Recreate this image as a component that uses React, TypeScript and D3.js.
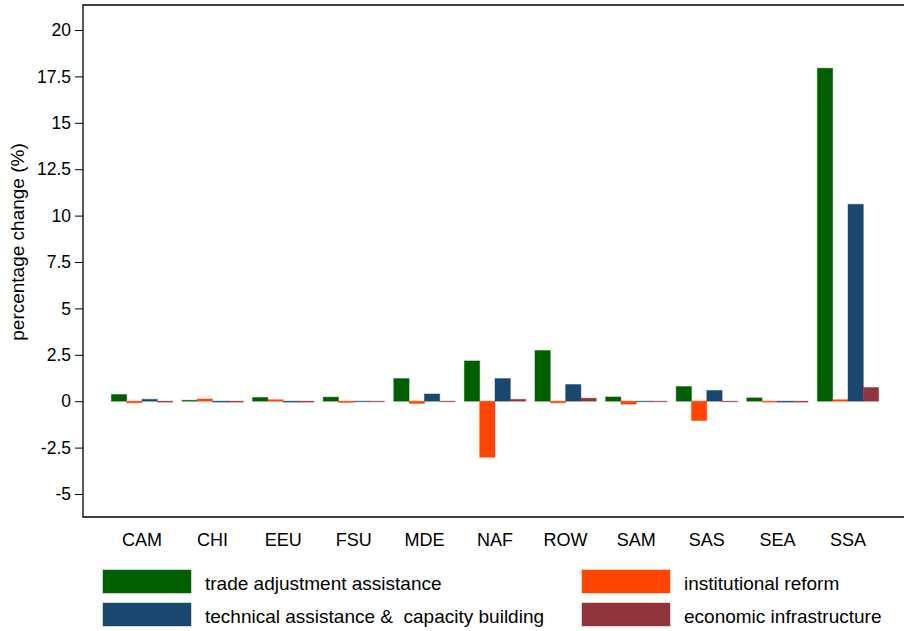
import { useEffect, useRef } from "react";
import * as d3 from "d3";

const regions = ["CAM", "CHI", "EEU", "FSU", "MDE", "NAF", "ROW", "SAM", "SAS", "SEA", "SSA"];
const seriesNames = [
  "trade adjustment assistance",
  "institutional reform",
  "technical assistance &  capacity building",
  "economic infrastructure",
];
const tradeAdj = [0.36, 0.05, 0.2, 0.22, 1.22, 2.17, 2.73, 0.23, 0.79, 0.18, 17.94];
const instReform = [-0.09, 0.12, 0.08, -0.07, -0.12, -3.02, -0.09, -0.16, -1.04, -0.05, 0.08];
const techAssist = [0.1, -0.05, -0.05, -0.03, 0.39, 1.22, 0.9, -0.03, 0.58, -0.05, 10.61];
const econInfra = [-0.05, -0.05, -0.05, -0.03, -0.03, 0.1, 0.16, -0.03, -0.03, -0.05, 0.74];
const yTicks = [-5, -2.5, 0, 2.5, 5, 7.5, 10, 12.5, 15, 17.5, 20];
const colors = ["#006000", "#ff4500", "#1a476f", "#90353b"];

export default function App() {
  const ref = useRef<SVGSVGElement>(null);

  useEffect(() => {
    document.body.style.margin = "0";
    if (!ref.current) return;
    const width = 904;
    const height = 631;
    const font = "'Liberation Sans', Arial, Helvetica, sans-serif";
    const left = 83;
    const top = 5;
    const bottom = 517;

    d3.select(ref.current).selectAll("*").remove();
    const svg = d3.select(ref.current).attr("width", width).attr("height", height);

    const values = [tradeAdj, instReform, techAssist, econInfra];

    const y = d3.scaleLinear().domain([-5, 20]).range([494, 30]);
    const x = d3
      .scaleBand()
      .domain(regions)
      .range([106.7, 883.3])
      .paddingInner(0.132)
      .paddingOuter(0.066);
    const xs = d3
      .scaleBand()
      .domain(seriesNames)
      .range([0, x.bandwidth()]);

    // bars
    seriesNames.forEach((name, si) => {
      svg
        .append("g")
        .selectAll("rect")
        .data(values[si])
        .join("rect")
        .attr("x", (_, i) => (x(regions[i]) ?? 0) + (xs(name) ?? 0))
        .attr("width", xs.bandwidth())
        .attr("y", (d) => Math.min(y(d), y(0)))
        .attr("height", (d) => Math.abs(y(d) - y(0)))
        .attr("fill", colors[si])
        .attr("stroke", colors[si])
        .attr("stroke-opacity", 0.45)
        .attr("stroke-width", 1);
    });

    // frame
    svg
      .append("path")
      .attr("d", `M${width + 2},${top}H${left}V${bottom}H${width + 2}`)
      .attr("fill", "none")
      .attr("stroke", "#000")
      .attr("stroke-width", 1.3);

    // y axis
    const yAxis = svg
      .append("g")
      .attr("transform", `translate(${left},0)`)
      .call(
        d3
          .axisLeft(y)
          .tickValues(yTicks)
          .tickSize(8)
          .tickPadding(4)
          .tickFormat((d) => String(d))
      );
    yAxis.select(".domain").remove();
    yAxis.selectAll("line").attr("stroke", "#000").attr("stroke-width", 1);
    yAxis
      .selectAll("text")
      .attr("fill", "#000")
      .style("font-family", font)
      .style("font-size", "17.5px");

    svg
      .append("text")
      .attr("transform", `translate(24,242) rotate(-90)`)
      .attr("text-anchor", "middle")
      .style("font-family", font)
      .style("font-size", "19px")
      .text("percentage change (%)");

    // x labels
    svg
      .append("g")
      .selectAll("text")
      .data(regions)
      .join("text")
      .attr("x", (d) => (x(d) ?? 0) + x.bandwidth() / 2)
      .attr("y", 546)
      .attr("text-anchor", "middle")
      .style("font-family", font)
      .style("font-size", "18px")
      .text((d) => d);

    // legend
    const legendPos = [
      { x: 103, y: 570 },
      { x: 582, y: 570 },
      { x: 103, y: 603 },
      { x: 582, y: 603 },
    ];
    const lg = svg
      .append("g")
      .selectAll("g")
      .data(seriesNames)
      .join("g")
      .attr("transform", (_, i) => `translate(${legendPos[i].x},${legendPos[i].y})`);
    lg.append("rect")
      .attr("width", 88)
      .attr("height", 23)
      .attr("fill", (_, i) => colors[i])
      .attr("stroke", (_, i) => colors[i])
      .attr("stroke-opacity", 0.45);
    lg.append("text")
      .attr("x", 102)
      .attr("y", 20)
      .style("font-family", font)
      .style("font-size", "19px")
      .style("white-space", "pre")
      .attr("xml:space", "preserve")
      .text((d) => d);
  }, []);

  return <svg ref={ref} style={{ display: "block" }} />;
}
